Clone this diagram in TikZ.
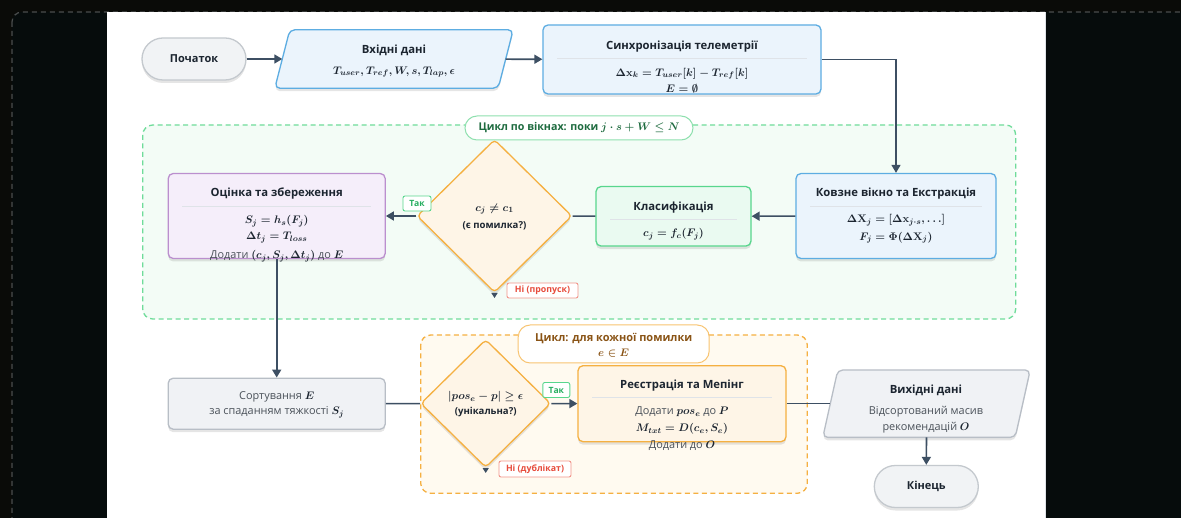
\documentclass[tikz,border=0pt]{standalone}
\usepackage{fontspec}
\setmainfont{Open Sans}
\usetikzlibrary{arrows.meta,shapes.geometric,shadows}
\definecolor{bgout}{HTML}{0A0B08}
\definecolor{bgin}{HTML}{060C0C}
\definecolor{frm}{HTML}{4A4D4D}
\definecolor{arrc}{HTML}{3D4F63}
\definecolor{txt}{HTML}{1C2530}
\definecolor{txtg}{HTML}{4A5159}
\definecolor{startf}{HTML}{F1F3F5}
\definecolor{startd}{HTML}{C4C9CE}
\definecolor{bluef}{HTML}{EBF4FC}
\definecolor{blued}{HTML}{5DADE2}
\definecolor{greenf}{HTML}{EAFAF1}
\definecolor{greend}{HTML}{58D68D}
\definecolor{purpf}{HTML}{F5EEFA}
\definecolor{purpd}{HTML}{BB8FCE}
\definecolor{orf}{HTML}{FEF5E7}
\definecolor{ord}{HTML}{F5B041}
\definecolor{grayf}{HTML}{F0F2F5}
\definecolor{grayd}{HTML}{B8BEC6}
\definecolor{gframef}{HTML}{F3FCF6}
\definecolor{gframed}{HTML}{6FDC9A}
\definecolor{oframef}{HTML}{FFFAF0}
\definecolor{sepc}{HTML}{DFE3E8}
\definecolor{glab}{HTML}{1E6B3F}
\definecolor{glabd}{HTML}{8EE0AE}
\definecolor{olab}{HTML}{8A5416}
\definecolor{olabd}{HTML}{F8C471}
\definecolor{takc}{HTML}{27AE60}
\definecolor{nic}{HTML}{E74C3C}
\definecolor{nid}{HTML}{F1948A}
\begin{document}
\begin{tikzpicture}[x=1pt,y=-1pt,
  shd/.style={drop shadow={shadow xshift=0pt,shadow yshift=-3pt,opacity=0.10,fill=black}},
  box/.style={draw,line width=1.3pt,rounded corners=5pt,inner sep=0pt,shd},
  blueb/.style={box,fill=bluef,draw=blued},
  greenb/.style={box,fill=greenf,draw=greend},
  purpb/.style={box,fill=purpf,draw=purpd},
  orb/.style={box,fill=orf,draw=ord},
  grayb/.style={box,fill=grayf,draw=grayd},
  pill/.style={draw=startd,fill=startf,line width=1.3pt,rounded corners=21pt,inner sep=0pt,
     minimum width=104pt,minimum height=42pt,shd,font=\bfseries\fontsize{11}{13}\selectfont,text=txt},
  anchorbox/.style={rectangle,inner sep=0pt},
  parashape/.style={line width=1.3pt,rounded corners=5pt,shd},
  dia/.style={diamond,draw=ord,fill=orf,line width=1.3pt,rounded corners=4pt,inner sep=0pt,shd},
  ttl/.style={font=\bfseries\fontsize{11.3}{13}\selectfont,text=txt,inner sep=0pt},
  mth/.style={font=\fontsize{10.9}{12}\selectfont\boldmath,text=txt,inner sep=0pt},
  qst/.style={font=\bfseries\fontsize{9.6}{11}\selectfont,text=txt,inner sep=0pt},
  sepl/.style={draw=sepc,line width=0.8pt},
  arr/.style={draw=arrc,line width=1.6pt,-{Triangle[length=8pt,width=9pt]}},
  arrs/.style={draw=arrc,line width=1.2pt,-{Triangle[length=5pt,width=6pt]}},
  ln/.style={draw=arrc,line width=1.6pt},
  tak/.style={draw=greend,fill=white,text=takc,line width=0.9pt,rounded corners=2pt,inner sep=0pt,
     font=\bfseries\fontsize{8.6}{10}\selectfont},
  ni/.style={draw=nid,fill=white,text=nic,line width=0.9pt,rounded corners=2pt,inner sep=0pt,
     font=\bfseries\fontsize{8.8}{10}\selectfont}
]
\useasboundingbox (0,0) rectangle (1181,518);
\clip (0,0) rectangle (1181,518);
% dark backdrop
\fill[bgout] (0,0) rectangle (1181,518);
\draw[frm,fill=bgin,line width=1.2pt,dash pattern=on 5pt off 4pt,rounded corners=10pt] (12,12) rectangle (1200,540);
% white panel
\fill[white] (107,12) rectangle (1045,530);
\draw[sepc,line width=0.8pt] (1045,12) -- (1045,530);

% loop frames
\draw[gframed,fill=gframef,line width=1.3pt,dash pattern=on 5pt off 3.5pt,rounded corners=10pt] (142.7,125) rectangle (1015.7,319);
\draw[ord,fill=oframef,line width=1.3pt,dash pattern=on 5pt off 3.5pt,rounded corners=10pt] (420.7,335) rectangle (807.3,493.3);

% row 1
\node[pill] (start) at (194,59) {Початок};
\node[anchorbox,minimum width=223pt,minimum height=58pt] (inp) at (394,59) {};
\draw[parashape,fill=bluef,draw=blued] ([xshift=7.5pt]inp.north west) -- ([xshift=7.5pt]inp.north east)
   -- ([xshift=-7.5pt]inp.south east) -- ([xshift=-7.5pt]inp.south west) -- cycle;
\node[ttl] (inpt) at (394,50) {Вхідні дані};
\node[mth] (inpb) at (394,72) {$T_{user}, T_{ref}, W, s, T_{lap}, \epsilon$};

\node[blueb,minimum width=278pt,minimum height=69pt] (sync) at (682,59.5) {};
\node[ttl] (synct) at (682,46.5) {Синхронізація телеметрії};
\draw[sepl] (557,58) -- (807,58);
\node[mth] (syncb1) at (682,73.7) {$\Delta\mathbf{x}_k = T_{user}[k] - T_{ref}[k]$};
\node[mth] (syncb2) at (682,88.3) {$E = \emptyset$};

% loop label
\node[draw=glabd,fill=white,line width=1pt,rounded corners=12pt,minimum width=228pt,minimum height=24pt,inner sep=0pt,
  font=\bfseries\fontsize{10.7}{12}\selectfont\boldmath,text=glab] (loop1) at (579,128) {Цикл по вікнах: поки $j \cdot s + W \leq N$};

% row 2
\node[blueb,minimum width=200pt,minimum height=85pt] (kov) at (896,216) {};
\node[ttl] (kovt) at (896,193.5) {Ковзне вікно та Екстракція};
\draw[sepl] (810,206) -- (982,206);
\node[mth] (kovb1) at (896,220) {$\Delta\mathbf{X}_j = [\Delta\mathbf{x}_{j\cdot s}, \ldots]$};
\node[mth] (kovb2) at (896,237.7) {$F_j = \Phi(\Delta\mathbf{X}_j)$};

\node[greenb,minimum width=155pt,minimum height=59.5pt] (cls) at (673.5,216.3) {};
\node[ttl] (clst) at (673.5,207.3) {Класифікація};
\draw[sepl] (610,219) -- (737,219);
\node[mth] (clsb) at (673.5,234.3) {$c_j = f_c(F_j)$};

\node[dia,minimum width=155pt,minimum height=153pt] (d1) at (494.5,216) {};
\node[mth] (d1a) at (494.5,209) {$c_j \neq c_1$};
\node[qst] (d1b) at (494.5,225.7) {(є помилка?)};

\node[purpb,minimum width=217pt,minimum height=85pt] (eval) at (276.7,216) {};
\node[ttl] (evalt) at (276.7,194) {Оцінка та збереження};
\draw[sepl] (182,206) -- (371,206);
\node[mth] (evalb1) at (276.7,221) {$S_j = h_s(F_j)$};
\node[mth] (evalb2) at (276.7,237.7) {$\Delta t_j = T_{loss}$};
\node[mth] (evalb3) at (276.7,256) {{\color{txtg}Додати} $(c_j, S_j, \Delta t_j)$ {\color{txtg}до} $E$};

% row 3
\node[grayb,minimum width=217pt,minimum height=51pt] (sort) at (276.7,403.7) {};
\node[mth,text=txtg] (sort1) at (276.7,396.7) {Сортування {\color{txt}$E$}};
\node[mth,text=txtg] (sort2) at (276.7,412.3) {за спаданням тяжкості {\color{txt}$S_j$}};

\node[draw=olabd,fill=white,line width=1pt,rounded corners=12pt,minimum width=191pt,minimum height=38pt,inner sep=0pt] (loop2) at (613.7,344) {};
\node[mth,font=\bfseries\fontsize{11}{13}\selectfont,text=olab] (loop2a) at (613.7,338.3) {Цикл: для кожної помилки};
\node[mth,text=olab] (loop2b) at (613.7,353.3) {$e \in E$};

\node[dia,minimum width=130pt,minimum height=128pt] (d2) at (485.7,403.5) {};
\node[mth] (d2a) at (485.7,396.7) {$|pos_e - p| \geq \epsilon$};
\node[qst] (d2b) at (485.7,412.3) {(унікальна?)};

\node[orb,minimum width=208pt,minimum height=76pt] (reg) at (682,403.7) {};
\node[ttl] (regt) at (682,385.7) {Реєстрація та Мепінг};
\draw[sepl] (592,397.7) -- (772,397.7);
\node[mth] (regb1) at (682,411.7) {{\color{txtg}Додати} $pos_e$ {\color{txtg}до} $P$};
\node[mth] (regb2) at (682,429) {$M_{txt} = D(c_e, S_e)$};
\node[mth] (regb3) at (682,446) {{\color{txtg}Додати до} $O$};

\node[anchorbox,minimum width=192pt,minimum height=67pt] (out) at (926.5,403.7) {};
\draw[parashape,fill=grayf,draw=grayd] ([xshift=7.5pt]out.north west) -- ([xshift=7.5pt]out.north east)
   -- ([xshift=-7.5pt]out.south east) -- ([xshift=-7.5pt]out.south west) -- cycle;
\node[ttl] (outt) at (926,390) {Вихідні дані};
\node[mth,text=txtg] (outb1) at (926,411.7) {Відсортований масив};
\node[mth,text=txtg] (outb2) at (926,427.3) {рекомендацій {\color{txt}$O$}};

\node[pill] (end) at (926.3,486.5) {Кінець};

% connectors
\draw[arr] (start) -- (inp);
\draw[arr] (inp) -- (sync);
\draw[arr] (sync.east) -| (kov.north);
\draw[arr] (kov) -- (cls);
\draw[ln] (cls) -- (d1);
\draw[arr] (d1) -- (eval);
\coordinate (d1no) at (494.5,298);
\draw[arrs] (d1.south) -- (d1no);
\draw[arr] (eval.south) -- (sort.north);
\draw[ln] (sort) -- (d2);
\draw[arr] (d2) -- (reg);
\coordinate (d2no) at (485.7,473);
\draw[arrs] (d2.south) -- (d2no);
\draw[ln] (reg) -- (out);
\draw[arr] (out.south) -- (end.north);

% branch labels
\node[tak,minimum width=28pt,minimum height=15pt] (tak1) at (417,203.5) {Так};
\node[ni,minimum width=71pt,minimum height=15pt] (ni1) at (542.5,290.5) {Ні (пропуск)};
\node[tak,minimum width=27pt,minimum height=15pt] (tak2) at (556.3,390) {Так};
\node[ni,minimum width=72pt,minimum height=16pt] (ni2) at (535,469) {Ні (дублікат)};
\end{tikzpicture}
\end{document}
